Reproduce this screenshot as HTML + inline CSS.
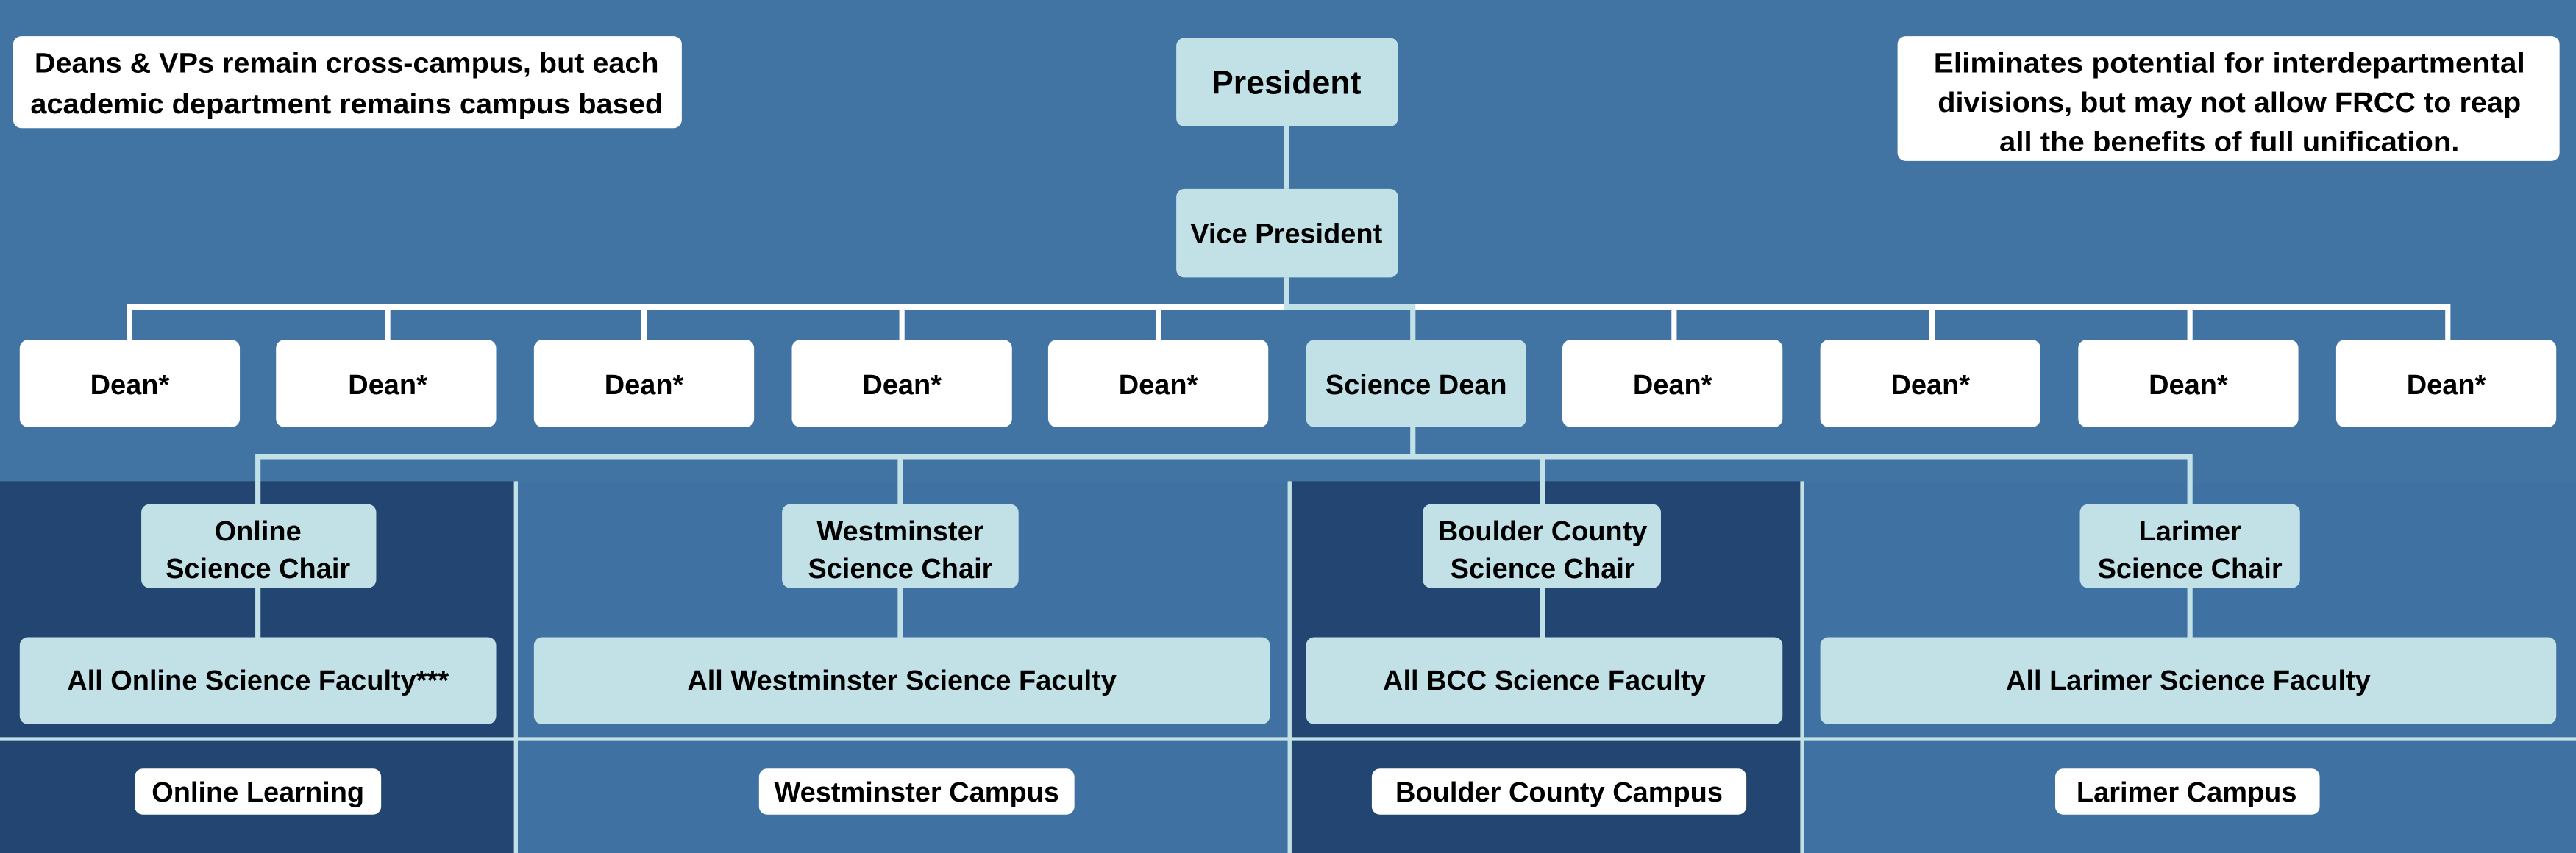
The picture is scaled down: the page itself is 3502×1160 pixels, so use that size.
<!DOCTYPE html>
<html><head><meta charset="utf-8"><style>
html,body{margin:0;padding:0;background:#4174a3;}
svg{display:block}
text{font-family:"Liberation Sans Narrow","Liberation Sans",sans-serif;font-weight:bold;fill:#000;text-anchor:middle;}
</style></head><body>
<svg width="3502" height="1160" viewBox="0 0 1568 519.4" preserveAspectRatio="none" xmlns="http://www.w3.org/2000/svg">
<rect x="0" y="0" width="1568" height="520" fill="#4174a3"/>
<!-- columns -->
<rect x="0" y="293" width="314" height="227" fill="#234571"/>
<rect x="314" y="293" width="471" height="227" fill="#3f72a2"/>
<rect x="785" y="293" width="312" height="227" fill="#234571"/>
<rect x="1097" y="293" width="471" height="227" fill="#3f72a2"/>
<g stroke="#c2e1e7" stroke-width="2.4" fill="none">
<line x1="314" y1="293" x2="314" y2="520"/>
<line x1="785" y1="293" x2="785" y2="520"/>
<line x1="1097" y1="293" x2="1097" y2="520"/>
<line x1="0" y1="450" x2="1568" y2="450"/>
</g>
<!-- white bus -->
<g stroke="#fff" stroke-width="3.2" fill="none">
<polyline points="79,207 79,187 1490,187 1490,207"/>
<line x1="236" y1="187" x2="236" y2="207"/>
<line x1="392" y1="187" x2="392" y2="207"/>
<line x1="549" y1="187" x2="549" y2="207"/>
<line x1="705" y1="187" x2="705" y2="207"/>
<line x1="1019" y1="187" x2="1019" y2="207"/>
<line x1="1176" y1="187" x2="1176" y2="207"/>
<line x1="1333" y1="187" x2="1333" y2="207"/>
</g>
<g stroke="#c2e1e7" stroke-width="3.2" fill="none">
<line x1="783" y1="77" x2="783" y2="115"/>
<polyline points="783,169 783,187 860,187 860,207"/>
<line x1="860" y1="260" x2="860" y2="278"/>
<polyline points="157,307 157,278 1333,278 1333,307"/>
<line x1="548" y1="278" x2="548" y2="307"/>
<line x1="939" y1="278" x2="939" y2="307"/>
<line x1="157" y1="358" x2="157" y2="388"/>
<line x1="548" y1="358" x2="548" y2="388"/>
<line x1="939" y1="358" x2="939" y2="388"/>
<line x1="1333" y1="358" x2="1333" y2="388"/>
</g>
<!-- notes -->
<rect x="8" y="22" width="407" height="56" rx="5" fill="#fff"/>
<text x="211" y="44" font-size="17" textLength="380" lengthAdjust="spacingAndGlyphs">Deans &amp; VPs remain cross-campus, but each</text>
<text x="211" y="69" font-size="17" textLength="385" lengthAdjust="spacingAndGlyphs">academic department remains campus based</text>
<rect x="1155" y="22" width="403" height="76" rx="5" fill="#fff"/>
<text x="1357" y="44" font-size="17" textLength="360" lengthAdjust="spacingAndGlyphs">Eliminates potential for interdepartmental</text>
<text x="1357" y="68" font-size="17" textLength="355" lengthAdjust="spacingAndGlyphs">divisions, but may not allow FRCC to reap</text>
<text x="1357" y="92" font-size="17" textLength="280" lengthAdjust="spacingAndGlyphs">all the benefits of full unification.</text>
<!-- president / vp -->
<rect x="716" y="23" width="135" height="54" rx="5" fill="#c2e1e7"/>
<text x="783" y="57" font-size="20">President</text>
<rect x="716" y="115" width="135" height="54" rx="5" fill="#c2e1e7"/>
<text x="783" y="148" font-size="17">Vice President</text>
<!-- deans -->
<g font-size="17">
<rect x="12" y="207" width="134" height="53" rx="5" fill="#fff"/><text x="79" y="240">Dean*</text>
<rect x="168" y="207" width="134" height="53" rx="5" fill="#fff"/><text x="236" y="240">Dean*</text>
<rect x="325" y="207" width="134" height="53" rx="5" fill="#fff"/><text x="392" y="240">Dean*</text>
<rect x="482" y="207" width="134" height="53" rx="5" fill="#fff"/><text x="549" y="240">Dean*</text>
<rect x="638" y="207" width="134" height="53" rx="5" fill="#fff"/><text x="705" y="240">Dean*</text>
<rect x="795" y="207" width="134" height="53" rx="5" fill="#c2e1e7"/><text x="862" y="240">Science Dean</text>
<rect x="951" y="207" width="134" height="53" rx="5" fill="#fff"/><text x="1018" y="240">Dean*</text>
<rect x="1108" y="207" width="134" height="53" rx="5" fill="#fff"/><text x="1175" y="240">Dean*</text>
<rect x="1265" y="207" width="134" height="53" rx="5" fill="#fff"/><text x="1332" y="240">Dean*</text>
<rect x="1422" y="207" width="134" height="53" rx="5" fill="#fff"/><text x="1489" y="240">Dean*</text>
</g>
<!-- chairs -->
<g font-size="17">
<rect x="86" y="307" width="143" height="51" rx="5" fill="#c2e1e7"/>
<text x="157" y="329">Online</text><text x="157" y="352">Science Chair</text>
<rect x="476" y="307" width="144" height="51" rx="5" fill="#c2e1e7"/>
<text x="548" y="329">Westminster</text><text x="548" y="352">Science Chair</text>
<rect x="866" y="307" width="145" height="51" rx="5" fill="#c2e1e7"/>
<text x="939" y="329">Boulder County</text><text x="939" y="352">Science Chair</text>
<rect x="1266" y="307" width="134" height="51" rx="5" fill="#c2e1e7"/>
<text x="1333" y="329">Larimer</text><text x="1333" y="352">Science Chair</text>
<!-- faculty -->
<rect x="12" y="388" width="290" height="53" rx="5" fill="#c2e1e7"/><text x="157" y="420">All Online Science Faculty***</text>
<rect x="325" y="388" width="448" height="53" rx="5" fill="#c2e1e7"/><text x="549" y="420">All Westminster Science Faculty</text>
<rect x="795" y="388" width="290" height="53" rx="5" fill="#c2e1e7"/><text x="940" y="420">All BCC Science Faculty</text>
<rect x="1108" y="388" width="448" height="53" rx="5" fill="#c2e1e7"/><text x="1332" y="420">All Larimer Science Faculty</text>
<!-- campus labels -->
<rect x="82" y="468" width="150" height="28" rx="5" fill="#fff"/><text x="157" y="488">Online Learning</text>
<rect x="462" y="468" width="192" height="28" rx="5" fill="#fff"/><text x="558" y="488">Westminster Campus</text>
<rect x="835" y="468" width="228" height="28" rx="5" fill="#fff"/><text x="949" y="488">Boulder County Campus</text>
<rect x="1251" y="468" width="161" height="28" rx="5" fill="#fff"/><text x="1331" y="488">Larimer Campus</text>
</g>
</svg>
</body></html>
